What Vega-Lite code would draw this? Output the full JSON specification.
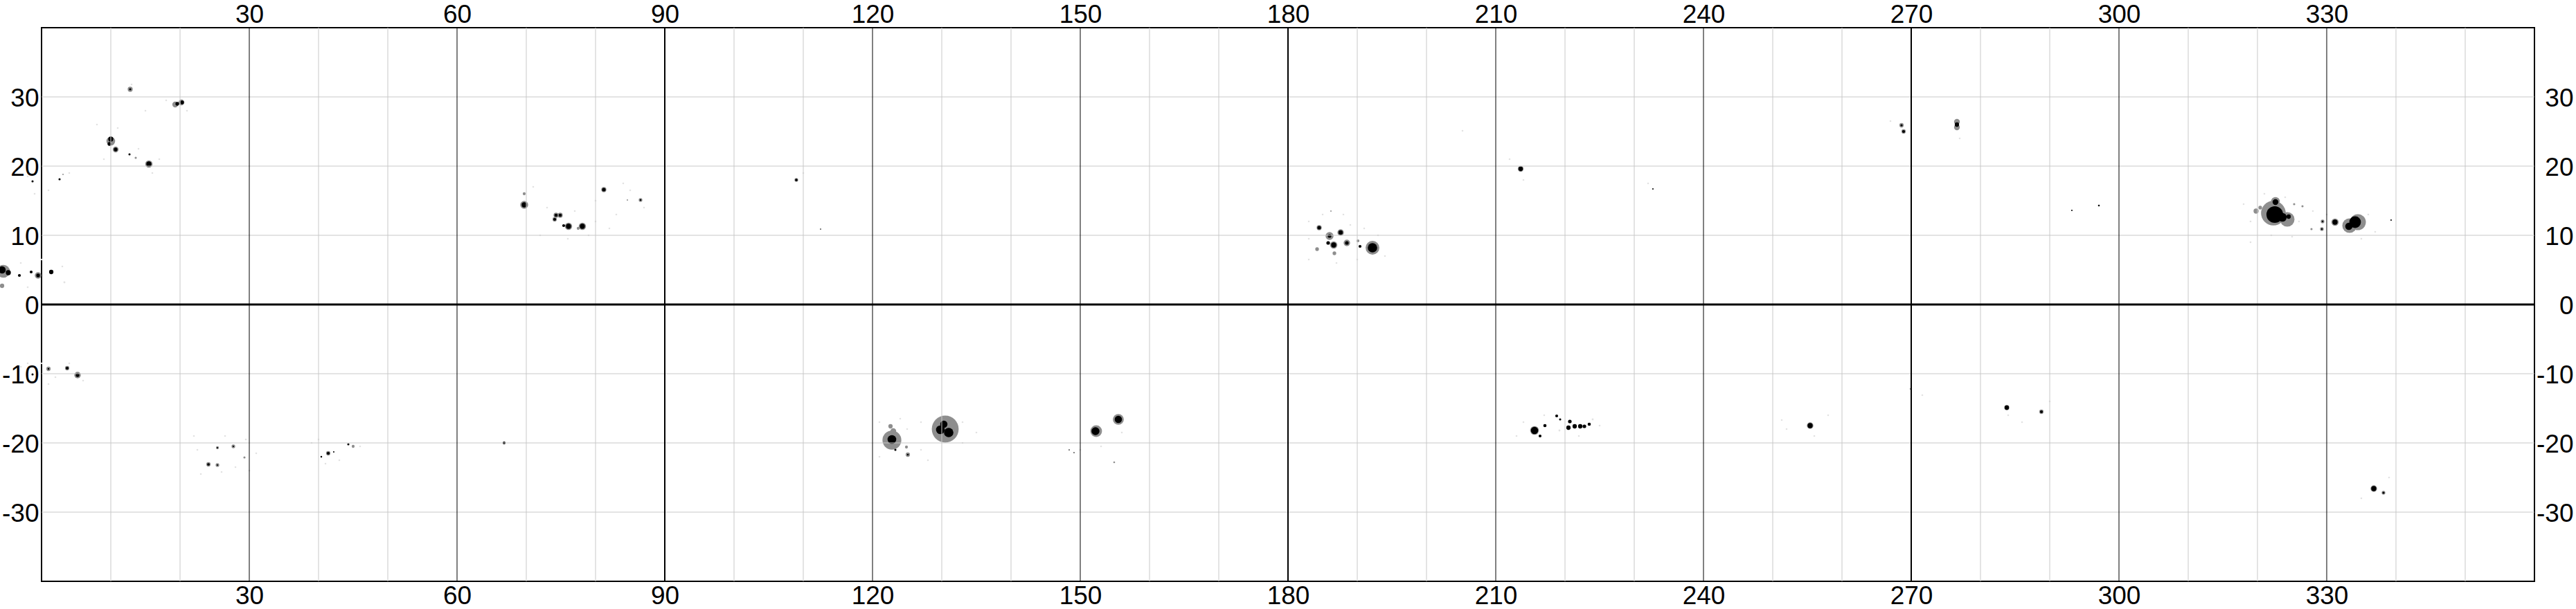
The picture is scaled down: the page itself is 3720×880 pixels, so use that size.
{
  "$schema": "https://vega.github.io/schema/vega-lite/v6.json",
  "width": 3600,
  "height": 800,
  "autosize": {"type": "none"},
  "padding": {"left": 60, "top": 40, "right": 60, "bottom": 40},
  "background": "white",
  "config": {
    "view": {"stroke": "black", "strokeWidth": 2},
    "axis": {
      "labelFont": "Liberation Sans",
      "labelFontSize": 37,
      "labelColor": "black",
      "ticks": false,
      "tickSize": 0,
      "domain": false,
      "grid": false
    }
  },
  "datasets": {
    "spots": [
      {"lon": 8, "lat": 26, "a": 0.05, "part": "faint"},
      {"lon": 11, "lat": 25.5, "a": 0.05, "part": "faint"},
      {"lon": 14, "lat": 22.5, "a": 0.05, "part": "faint"},
      {"lon": 17, "lat": 21, "a": 0.05, "part": "faint"},
      {"lon": 18, "lat": 29.5, "a": 0.05, "part": "faint"},
      {"lon": 21, "lat": 28, "a": 0.05, "part": "faint"},
      {"lon": 13, "lat": 31.8, "a": 0.05, "part": "faint"},
      {"lon": 15, "lat": 28, "a": 0.05, "part": "faint"},
      {"lon": 9, "lat": 21, "a": 0.05, "part": "faint"},
      {"lon": 16, "lat": 19, "a": 0.05, "part": "faint"},
      {"lon": -3, "lat": 6, "a": 0.05, "part": "faint"},
      {"lon": 0, "lat": 6.5, "a": 0.05, "part": "faint"},
      {"lon": 3.3, "lat": 3.2, "a": 0.06, "part": "faint"},
      {"lon": -2, "lat": 2.5, "a": 0.05, "part": "faint"},
      {"lon": 3, "lat": 5.5, "a": 0.05, "part": "faint"},
      {"lon": -2, "lat": 18.5, "a": 0.05, "part": "faint"},
      {"lon": 1, "lat": 16.5, "a": 0.05, "part": "faint"},
      {"lon": 4, "lat": 19, "a": 0.05, "part": "faint"},
      {"lon": -1, "lat": 16, "a": 0.05, "part": "faint"},
      {"lon": -3, "lat": -9, "a": 0.05, "part": "faint"},
      {"lon": 0, "lat": -8.5, "a": 0.05, "part": "faint"},
      {"lon": 2, "lat": -10.5, "a": 0.05, "part": "faint"},
      {"lon": 4, "lat": -8.5, "a": 0.05, "part": "faint"},
      {"lon": 6, "lat": -11, "a": 0.05, "part": "faint"},
      {"lon": 1, "lat": -11.5, "a": 0.05, "part": "faint"},
      {"lon": -2, "lat": -8.5, "a": 0.05, "part": "faint"},
      {"lon": 22, "lat": -19, "a": 0.05, "part": "faint"},
      {"lon": 23, "lat": -24.5, "a": 0.05, "part": "faint"},
      {"lon": 26, "lat": -24.2, "a": 0.05, "part": "faint"},
      {"lon": 28, "lat": -23.5, "a": 0.05, "part": "faint"},
      {"lon": 30, "lat": -24, "a": 0.05, "part": "faint"},
      {"lon": 22.5, "lat": -21, "a": 0.05, "part": "faint"},
      {"lon": 26.5, "lat": -19, "a": 0.05, "part": "faint"},
      {"lon": 29.5, "lat": -19.5, "a": 0.05, "part": "faint"},
      {"lon": 31, "lat": -21.5, "a": 0.05, "part": "faint"},
      {"lon": 39, "lat": -20, "a": 0.05, "part": "faint"},
      {"lon": 40, "lat": -19.5, "a": 0.05, "part": "faint"},
      {"lon": 43, "lat": -22.5, "a": 0.05, "part": "faint"},
      {"lon": 46, "lat": -20.5, "a": 0.05, "part": "faint"},
      {"lon": 41, "lat": -23, "a": 0.05, "part": "faint"},
      {"lon": 71, "lat": 17, "a": 0.05, "part": "faint"},
      {"lon": 73, "lat": 14, "a": 0.05, "part": "faint"},
      {"lon": 77, "lat": 13.5, "a": 0.05, "part": "faint"},
      {"lon": 80, "lat": 12, "a": 0.05, "part": "faint"},
      {"lon": 83, "lat": 13, "a": 0.05, "part": "faint"},
      {"lon": 85, "lat": 16.5, "a": 0.05, "part": "faint"},
      {"lon": 72, "lat": 10, "a": 0.05, "part": "faint"},
      {"lon": 79, "lat": 10, "a": 0.05, "part": "faint"},
      {"lon": 82, "lat": 11, "a": 0.05, "part": "faint"},
      {"lon": 87, "lat": 14, "a": 0.05, "part": "faint"},
      {"lon": 76, "lat": 9.5, "a": 0.05, "part": "faint"},
      {"lon": 80, "lat": 15, "a": 0.05, "part": "faint"},
      {"lon": 84, "lat": 17.5, "a": 0.05, "part": "faint"},
      {"lon": 183, "lat": 12, "a": 0.05, "part": "faint"},
      {"lon": 185, "lat": 13, "a": 0.05, "part": "faint"},
      {"lon": 189, "lat": 11.5, "a": 0.05, "part": "faint"},
      {"lon": 191, "lat": 11, "a": 0.05, "part": "faint"},
      {"lon": 193, "lat": 10, "a": 0.05, "part": "faint"},
      {"lon": 183, "lat": 6.5, "a": 0.05, "part": "faint"},
      {"lon": 187, "lat": 6, "a": 0.05, "part": "faint"},
      {"lon": 190, "lat": 6.5, "a": 0.05, "part": "faint"},
      {"lon": 194, "lat": 7, "a": 0.05, "part": "faint"},
      {"lon": 188, "lat": 13, "a": 0.05, "part": "faint"},
      {"lon": 183, "lat": 9.5, "a": 0.05, "part": "faint"},
      {"lon": 318, "lat": 14.5, "a": 0.05, "part": "faint"},
      {"lon": 319, "lat": 12, "a": 0.05, "part": "faint"},
      {"lon": 321, "lat": 16, "a": 0.05, "part": "faint"},
      {"lon": 324, "lat": 15.5, "a": 0.05, "part": "faint"},
      {"lon": 326, "lat": 12, "a": 0.05, "part": "faint"},
      {"lon": 328, "lat": 13.5, "a": 0.05, "part": "faint"},
      {"lon": 330, "lat": 13, "a": 0.05, "part": "faint"},
      {"lon": 336, "lat": 13, "a": 0.05, "part": "faint"},
      {"lon": 337, "lat": 10.5, "a": 0.05, "part": "faint"},
      {"lon": 319, "lat": 9, "a": 0.05, "part": "faint"},
      {"lon": 322, "lat": 10, "a": 0.05, "part": "faint"},
      {"lon": 325, "lat": 9.8, "a": 0.05, "part": "faint"},
      {"lon": 335, "lat": 9.5, "a": 0.05, "part": "faint"},
      {"lon": 121, "lat": -17, "a": 0.05, "part": "faint"},
      {"lon": 124, "lat": -16.5, "a": 0.05, "part": "faint"},
      {"lon": 127, "lat": -17, "a": 0.05, "part": "faint"},
      {"lon": 127, "lat": -21, "a": 0.05, "part": "faint"},
      {"lon": 133, "lat": -17, "a": 0.05, "part": "faint"},
      {"lon": 133, "lat": -20, "a": 0.05, "part": "faint"},
      {"lon": 128, "lat": -22.5, "a": 0.05, "part": "faint"},
      {"lon": 121, "lat": -22, "a": 0.05, "part": "faint"},
      {"lon": 135, "lat": -18.5, "a": 0.05, "part": "faint"},
      {"lon": 125, "lat": -18, "a": 0.05, "part": "faint"},
      {"lon": 214, "lat": -17, "a": 0.05, "part": "faint"},
      {"lon": 217, "lat": -16, "a": 0.05, "part": "faint"},
      {"lon": 219.2, "lat": -18.2, "a": 0.06, "part": "faint"},
      {"lon": 224, "lat": -16.6, "a": 0.06, "part": "faint"},
      {"lon": 222, "lat": -19, "a": 0.05, "part": "faint"},
      {"lon": 225, "lat": -17.5, "a": 0.05, "part": "faint"},
      {"lon": 213, "lat": -19, "a": 0.05, "part": "faint"},
      {"lon": 205.2, "lat": 25.1, "a": 0.05, "part": "faint"},
      {"lon": 251.3, "lat": -16.7, "a": 0.05, "part": "faint"},
      {"lon": 252, "lat": -18, "a": 0.05, "part": "faint"},
      {"lon": 256, "lat": -19, "a": 0.05, "part": "faint"},
      {"lon": 258, "lat": -16, "a": 0.05, "part": "faint"},
      {"lon": 271.6, "lat": -13.1, "a": 0.05, "part": "faint"},
      {"lon": 284, "lat": -16, "a": 0.05, "part": "faint"},
      {"lon": 286, "lat": -17, "a": 0.05, "part": "faint"},
      {"lon": 290, "lat": -14, "a": 0.05, "part": "faint"},
      {"lon": 150, "lat": -21, "a": 0.05, "part": "faint"},
      {"lon": 153, "lat": -20.5, "a": 0.05, "part": "faint"},
      {"lon": 156, "lat": -18.5, "a": 0.05, "part": "faint"},
      {"lon": 110, "lat": 19, "a": 0.05, "part": "faint"},
      {"lon": 212, "lat": 21, "a": 0.05, "part": "faint"},
      {"lon": 214, "lat": 18, "a": 0.05, "part": "faint"},
      {"lon": 339, "lat": -25, "a": 0.05, "part": "faint"},
      {"lon": 335, "lat": -28, "a": 0.05, "part": "faint"},
      {"lon": 267, "lat": 26.5, "a": 0.05, "part": "faint"},
      {"lon": 277, "lat": 24, "a": 0.05, "part": "faint"},
      {"lon": 232, "lat": 17.5, "a": 0.05, "part": "faint"},

      {"lon": -5.5, "lat": 4.8, "a": 2.5, "part": "penumbra"},
      {"lon": -0.5, "lat": 4.2, "a": 0.64, "part": "penumbra"},
      {"lon": -5.7, "lat": 2.7, "a": 0.28, "part": "penumbra"},
      {"lon": 12.8, "lat": 31.1, "a": 0.38, "part": "penumbra"},
      {"lon": 19.3, "lat": 28.9, "a": 0.5, "part": "penumbra"},
      {"lon": 20.2, "lat": 29.2, "a": 0.5, "part": "penumbra"},
      {"lon": 10, "lat": 23.6, "a": 1.13, "part": "penumbra"},
      {"lon": 10.7, "lat": 22.4, "a": 0.5, "part": "penumbra"},
      {"lon": 15.5, "lat": 20.3, "a": 0.8, "part": "penumbra"},
      {"lon": 13.6, "lat": 21.2, "a": 0.07, "part": "penumbra"},
      {"lon": 3.1, "lat": 18.8, "a": 0.03, "part": "penumbra"},
      {"lon": 1, "lat": -9.3, "a": 0.28, "part": "penumbra"},
      {"lon": 3.7, "lat": -9.2, "a": 0.28, "part": "penumbra"},
      {"lon": 5.2, "lat": -10.2, "a": 0.64, "part": "penumbra"},
      {"lon": 24.1, "lat": -23.1, "a": 0.28, "part": "penumbra"},
      {"lon": 25.4, "lat": -23.2, "a": 0.2, "part": "penumbra"},
      {"lon": 25.4, "lat": -20.7, "a": 0.13, "part": "penumbra"},
      {"lon": 27.7, "lat": -20.5, "a": 0.2, "part": "penumbra"},
      {"lon": 29.3, "lat": -22.1, "a": 0.07, "part": "penumbra"},
      {"lon": 41.4, "lat": -21.5, "a": 0.28, "part": "penumbra"},
      {"lon": 45.0, "lat": -20.5, "a": 0.13, "part": "penumbra"},
      {"lon": 69.7, "lat": 14.4, "a": 0.95, "part": "penumbra"},
      {"lon": 69.7, "lat": 16.0, "a": 0.13, "part": "penumbra"},
      {"lon": 74.3, "lat": 12.9, "a": 0.38, "part": "penumbra"},
      {"lon": 74.9, "lat": 12.9, "a": 0.38, "part": "penumbra"},
      {"lon": 74.1, "lat": 12.3, "a": 0.28, "part": "penumbra"},
      {"lon": 76.1, "lat": 11.3, "a": 0.785, "part": "penumbra"},
      {"lon": 78.1, "lat": 11.3, "a": 0.785, "part": "penumbra"},
      {"lon": 77.5, "lat": 11.0, "a": 0.13, "part": "penumbra"},
      {"lon": 81.2, "lat": 16.6, "a": 0.38, "part": "penumbra"},
      {"lon": 86.5, "lat": 15.1, "a": 0.2, "part": "penumbra"},
      {"lon": 84.6, "lat": 15.1, "a": 0.03, "part": "penumbra"},
      {"lon": 109.0, "lat": 18.0, "a": 0.2, "part": "penumbra"},
      {"lon": 192.2, "lat": 8.2, "a": 2.835, "part": "penumbra"},
      {"lon": 184.5, "lat": 11.1, "a": 0.385, "part": "penumbra"},
      {"lon": 186.0, "lat": 9.9, "a": 0.95, "part": "penumbra"},
      {"lon": 187.6, "lat": 10.4, "a": 0.636, "part": "penumbra"},
      {"lon": 186.6, "lat": 8.6, "a": 0.785, "part": "penumbra"},
      {"lon": 188.5, "lat": 8.9, "a": 0.636, "part": "penumbra"},
      {"lon": 190.1, "lat": 9.2, "a": 0.126, "part": "penumbra"},
      {"lon": 184.2, "lat": 8.0, "a": 0.2, "part": "penumbra"},
      {"lon": 186.7, "lat": 7.4, "a": 0.2, "part": "penumbra"},
      {"lon": 186.2, "lat": 13.5, "a": 0.03, "part": "penumbra"},
      {"lon": 213.6, "lat": 19.6, "a": 0.5, "part": "penumbra"},
      {"lon": 268.6, "lat": 25.9, "a": 0.28, "part": "penumbra"},
      {"lon": 268.9, "lat": 25.0, "a": 0.28, "part": "penumbra"},
      {"lon": 276.6, "lat": 26.4, "a": 0.5, "part": "penumbra"},
      {"lon": 276.6, "lat": 25.6, "a": 0.5, "part": "penumbra"},
      {"lon": 322.3, "lat": 13.2, "a": 9.08, "part": "penumbra"},
      {"lon": 324.3, "lat": 12.3, "a": 3.14, "part": "penumbra"},
      {"lon": 322.6, "lat": 14.9, "a": 1.13, "part": "penumbra"},
      {"lon": 319.8, "lat": 13.5, "a": 0.385, "part": "penumbra"},
      {"lon": 320.4, "lat": 14.0, "a": 0.2, "part": "penumbra"},
      {"lon": 325.3, "lat": 14.5, "a": 0.07, "part": "penumbra"},
      {"lon": 326.5, "lat": 14.2, "a": 0.07, "part": "penumbra"},
      {"lon": 329.4, "lat": 12.0, "a": 0.2, "part": "penumbra"},
      {"lon": 329.3, "lat": 10.9, "a": 0.2, "part": "penumbra"},
      {"lon": 327.8, "lat": 10.9, "a": 0.07, "part": "penumbra"},
      {"lon": 331.2, "lat": 11.9, "a": 0.785, "part": "penumbra"},
      {"lon": 333.3, "lat": 11.4, "a": 3.14, "part": "penumbra"},
      {"lon": 334.5, "lat": 11.9, "a": 3.8, "part": "penumbra"},
      {"lon": 122.8, "lat": -19.6, "a": 5.31, "part": "penumbra"},
      {"lon": 122.6, "lat": -17.6, "a": 0.28, "part": "penumbra"},
      {"lon": 123.0, "lat": -18.3, "a": 0.5, "part": "penumbra"},
      {"lon": 125.1, "lat": -21.7, "a": 0.28, "part": "penumbra"},
      {"lon": 124.9, "lat": -20.6, "a": 0.13, "part": "penumbra"},
      {"lon": 130.5, "lat": -18.0, "a": 10.75, "part": "penumbra"},
      {"lon": 152.3, "lat": -18.3, "a": 2.01, "part": "penumbra"},
      {"lon": 155.5, "lat": -16.6, "a": 1.767, "part": "penumbra"},
      {"lon": 154.9, "lat": -22.8, "a": 0.05, "part": "penumbra"},
      {"lon": 215.6, "lat": -18.2, "a": 1.13, "part": "penumbra"},
      {"lon": 255.4, "lat": -17.5, "a": 0.636, "part": "penumbra"},
      {"lon": 288.8, "lat": -15.5, "a": 0.28, "part": "penumbra"},
      {"lon": 283.8, "lat": -14.9, "a": 0.38, "part": "penumbra"},
      {"lon": 269.9, "lat": -12.2, "a": 0.05, "part": "penumbra"},
      {"lon": 336.8, "lat": -26.6, "a": 0.636, "part": "penumbra"},
      {"lon": 338.2, "lat": -27.2, "a": 0.2, "part": "penumbra"},

      {"lon": -5.7, "lat": 5.0, "a": 0.785, "part": "umbra"},
      {"lon": -4.8, "lat": 4.6, "a": 0.385, "part": "umbra"},
      {"lon": -3.2, "lat": 4.2, "a": 0.126, "part": "umbra"},
      {"lon": -1.5, "lat": 4.7, "a": 0.126, "part": "umbra"},
      {"lon": -0.5, "lat": 4.2, "a": 0.2, "part": "umbra"},
      {"lon": 1.4, "lat": 4.7, "a": 0.283, "part": "umbra"},
      {"lon": -1.3, "lat": 17.8, "a": 0.071, "part": "umbra"},
      {"lon": 0, "lat": 17.5, "a": 0.031, "part": "umbra"},
      {"lon": 2.6, "lat": 18.1, "a": 0.071, "part": "umbra"},
      {"lon": 12.8, "lat": 31.1, "a": 0.071, "part": "umbra"},
      {"lon": 19.6, "lat": 29.0, "a": 0.2, "part": "umbra"},
      {"lon": 20.3, "lat": 29.2, "a": 0.2, "part": "umbra"},
      {"lon": 10, "lat": 23.9, "a": 0.385, "part": "umbra"},
      {"lon": 9.8, "lat": 23.2, "a": 0.2, "part": "umbra"},
      {"lon": 10.7, "lat": 22.4, "a": 0.2, "part": "umbra"},
      {"lon": 12.7, "lat": 21.7, "a": 0.071, "part": "umbra"},
      {"lon": 15.5, "lat": 20.3, "a": 0.385, "part": "umbra"},
      {"lon": -1.3, "lat": -10.1, "a": 0.071, "part": "umbra"},
      {"lon": 1, "lat": -9.3, "a": 0.045, "part": "umbra"},
      {"lon": 3.7, "lat": -9.2, "a": 0.126, "part": "umbra"},
      {"lon": 5.2, "lat": -10.2, "a": 0.2, "part": "umbra"},
      {"lon": 24.1, "lat": -23.1, "a": 0.1, "part": "umbra"},
      {"lon": 25.4, "lat": -23.2, "a": 0.031, "part": "umbra"},
      {"lon": 25.4, "lat": -20.7, "a": 0.031, "part": "umbra"},
      {"lon": 27.7, "lat": -20.5, "a": 0.031, "part": "umbra"},
      {"lon": 41.4, "lat": -21.5, "a": 0.126, "part": "umbra"},
      {"lon": 40.4, "lat": -22.0, "a": 0.045, "part": "umbra"},
      {"lon": 42.2, "lat": -21.3, "a": 0.031, "part": "umbra"},
      {"lon": 44.3, "lat": -20.2, "a": 0.071, "part": "umbra"},
      {"lon": 66.8, "lat": -20.0, "a": 0.126, "part": "umbra"},
      {"lon": 69.7, "lat": 14.4, "a": 0.385, "part": "umbra"},
      {"lon": 74.3, "lat": 12.9, "a": 0.152, "part": "umbra"},
      {"lon": 74.9, "lat": 12.9, "a": 0.152, "part": "umbra"},
      {"lon": 74.1, "lat": 12.3, "a": 0.126, "part": "umbra"},
      {"lon": 76.1, "lat": 11.3, "a": 0.385, "part": "umbra"},
      {"lon": 75.4, "lat": 11.4, "a": 0.126, "part": "umbra"},
      {"lon": 78.1, "lat": 11.3, "a": 0.385, "part": "umbra"},
      {"lon": 81.2, "lat": 16.6, "a": 0.196, "part": "umbra"},
      {"lon": 86.5, "lat": 15.1, "a": 0.045, "part": "umbra"},
      {"lon": 109.0, "lat": 18.0, "a": 0.1, "part": "umbra"},
      {"lon": 112.5, "lat": 10.9, "a": 0.02, "part": "umbra"},
      {"lon": 192.2, "lat": 8.2, "a": 1.327, "part": "umbra"},
      {"lon": 184.5, "lat": 11.1, "a": 0.196, "part": "umbra"},
      {"lon": 186.0, "lat": 9.9, "a": 0.196, "part": "umbra"},
      {"lon": 187.6, "lat": 10.4, "a": 0.283, "part": "umbra"},
      {"lon": 186.6, "lat": 8.6, "a": 0.385, "part": "umbra"},
      {"lon": 185.8, "lat": 8.9, "a": 0.196, "part": "umbra"},
      {"lon": 188.5, "lat": 8.9, "a": 0.196, "part": "umbra"},
      {"lon": 190.4, "lat": 8.4, "a": 0.126, "part": "umbra"},
      {"lon": 213.6, "lat": 19.6, "a": 0.283, "part": "umbra"},
      {"lon": 232.7, "lat": 16.7, "a": 0.031, "part": "umbra"},
      {"lon": 268.6, "lat": 25.9, "a": 0.071, "part": "umbra"},
      {"lon": 268.9, "lat": 25.0, "a": 0.126, "part": "umbra"},
      {"lon": 276.6, "lat": 26.0, "a": 0.283, "part": "umbra"},
      {"lon": 293.2, "lat": 13.6, "a": 0.031, "part": "umbra"},
      {"lon": 297.1, "lat": 14.3, "a": 0.05, "part": "umbra"},
      {"lon": 322.5, "lat": 13.0, "a": 4.15, "part": "umbra"},
      {"lon": 322.6, "lat": 14.8, "a": 0.5, "part": "umbra"},
      {"lon": 323.6, "lat": 12.6, "a": 1.13, "part": "umbra"},
      {"lon": 324.5, "lat": 12.7, "a": 0.283, "part": "umbra"},
      {"lon": 329.4, "lat": 12.0, "a": 0.045, "part": "umbra"},
      {"lon": 329.3, "lat": 10.9, "a": 0.045, "part": "umbra"},
      {"lon": 331.2, "lat": 11.9, "a": 0.385, "part": "umbra"},
      {"lon": 334.1, "lat": 11.9, "a": 2.011, "part": "umbra"},
      {"lon": 333.2, "lat": 11.3, "a": 0.785, "part": "umbra"},
      {"lon": 339.3, "lat": 12.2, "a": 0.031, "part": "umbra"},
      {"lon": 122.8, "lat": -19.5, "a": 1.13, "part": "umbra"},
      {"lon": 123.3, "lat": -21.0, "a": 0.071, "part": "umbra"},
      {"lon": 125.1, "lat": -21.7, "a": 0.045, "part": "umbra"},
      {"lon": 130.3, "lat": -17.3, "a": 0.785, "part": "umbra"},
      {"lon": 129.8, "lat": -18.1, "a": 1.13, "part": "umbra"},
      {"lon": 131.0, "lat": -18.5, "a": 1.33, "part": "umbra"},
      {"lon": 148.4, "lat": -21.0, "a": 0.02, "part": "umbra"},
      {"lon": 149.1, "lat": -21.4, "a": 0.02, "part": "umbra"},
      {"lon": 152.2, "lat": -18.3, "a": 0.95, "part": "umbra"},
      {"lon": 155.5, "lat": -16.6, "a": 0.785, "part": "umbra"},
      {"lon": 215.6, "lat": -18.2, "a": 0.785, "part": "umbra"},
      {"lon": 216.4, "lat": -19.0, "a": 0.126, "part": "umbra"},
      {"lon": 217.1, "lat": -17.5, "a": 0.152, "part": "umbra"},
      {"lon": 218.8, "lat": -16.1, "a": 0.126, "part": "umbra"},
      {"lon": 219.3, "lat": -16.6, "a": 0.071, "part": "umbra"},
      {"lon": 220.5, "lat": -17.8, "a": 0.283, "part": "umbra"},
      {"lon": 220.7, "lat": -16.9, "a": 0.196, "part": "umbra"},
      {"lon": 221.4, "lat": -17.6, "a": 0.283, "part": "umbra"},
      {"lon": 222.2, "lat": -17.6, "a": 0.283, "part": "umbra"},
      {"lon": 222.8, "lat": -17.6, "a": 0.196, "part": "umbra"},
      {"lon": 223.5, "lat": -17.3, "a": 0.152, "part": "umbra"},
      {"lon": 255.4, "lat": -17.5, "a": 0.385, "part": "umbra"},
      {"lon": 283.8, "lat": -14.9, "a": 0.283, "part": "umbra"},
      {"lon": 288.8, "lat": -15.5, "a": 0.126, "part": "umbra"},
      {"lon": 336.8, "lat": -26.6, "a": 0.385, "part": "umbra"},
      {"lon": 338.2, "lat": -27.2, "a": 0.071, "part": "umbra"}
    ]
  },
  "layer": [
    {
      "data": {"name": "spots"},
      "mark": {"type": "point", "shape": "circle", "filled": true, "opacity": 1, "strokeWidth": 0},
      "encoding": {
        "x": {
          "field": "lon", "type": "quantitative",
          "scale": {"domain": [0, 360], "nice": false, "zero": false},
          "axis": {"orient": "bottom", "values": [30, 60, 90, 120, 150, 180, 210, 240, 270, 300, 330], "labelFont": "Liberation Sans", "labelFontSize": 37, "labelPadding": 3, "title": null}
        },
        "y": {
          "field": "lat", "type": "quantitative",
          "scale": {"domain": [-40, 40], "nice": false, "zero": false},
          "axis": {"orient": "left", "values": [-30, -20, -10, 0, 10, 20, 30], "labelExpr": "datum.value < 0 ? '-' + abs(datum.value) : '' + datum.value", "labelFont": "Liberation Sans", "labelFontSize": 37, "labelPadding": 4, "labelOffset": 2, "title": null}
        },
        "size": {"field": "a", "type": "quantitative", "scale": {"type": "linear", "domain": [0, 10], "range": [0, 1400], "zero": true}, "legend": null},
        "color": {"field": "part", "type": "nominal", "scale": {"domain": ["faint", "penumbra", "umbra"], "range": ["#e2e2e2", "#8e8e8e", "#000000"]}, "legend": null}
      }
    },
    {
      "data": {"values": [{"lon": 10}, {"lon": 20}, {"lon": 40}, {"lon": 50}, {"lon": 70}, {"lon": 80}, {"lon": 100}, {"lon": 110}, {"lon": 130}, {"lon": 140}, {"lon": 160}, {"lon": 170}, {"lon": 190}, {"lon": 200}, {"lon": 220}, {"lon": 230}, {"lon": 250}, {"lon": 260}, {"lon": 280}, {"lon": 290}, {"lon": 310}, {"lon": 320}, {"lon": 340}, {"lon": 350}]},
      "mark": {"type": "rule", "color": "#c8c8c8", "strokeWidth": 1},
      "encoding": {
        "x": {
          "field": "lon", "type": "quantitative",
          "axis": {"orient": "top", "values": [30, 60, 90, 120, 150, 180, 210, 240, 270, 300, 330], "labelFont": "Liberation Sans", "labelFontSize": 37, "labelPadding": 0, "title": null}
        }
      }
    },
    {
      "data": {"values": [{"lat": -30}, {"lat": -20}, {"lat": -10}, {"lat": 10}, {"lat": 20}, {"lat": 30}]},
      "mark": {"type": "rule", "color": "#c8c8c8", "strokeWidth": 1},
      "encoding": {
        "y": {
          "field": "lat", "type": "quantitative",
          "axis": {"orient": "right", "values": [-30, -20, -10, 0, 10, 20, 30], "labelExpr": "datum.value < 0 ? '-' + abs(datum.value) : '' + datum.value", "labelFont": "Liberation Sans", "labelFontSize": 37, "labelAlign": "right", "labelPadding": 56, "labelOffset": 2, "title": null}
        }
      }
    },
    {
      "data": {"values": [{"lon": 30}, {"lon": 60}, {"lon": 120}, {"lon": 150}, {"lon": 210}, {"lon": 240}, {"lon": 300}, {"lon": 330}]},
      "mark": {"type": "rule", "color": "black", "strokeWidth": 1},
      "encoding": {"x": {"field": "lon", "type": "quantitative", "axis": null}}
    },
    {
      "data": {"values": [{"lon": 90}, {"lon": 180}, {"lon": 270}]},
      "mark": {"type": "rule", "color": "black", "strokeWidth": 2},
      "encoding": {"x": {"field": "lon", "type": "quantitative", "axis": null}}
    },
    {
      "data": {"values": [{"lat": 0}]},
      "mark": {"type": "rule", "color": "black", "strokeWidth": 3},
      "encoding": {"y": {"field": "lat", "type": "quantitative", "axis": null}}
    }
  ],
  "resolve": {"axis": {"x": "independent", "y": "independent"}}
}
